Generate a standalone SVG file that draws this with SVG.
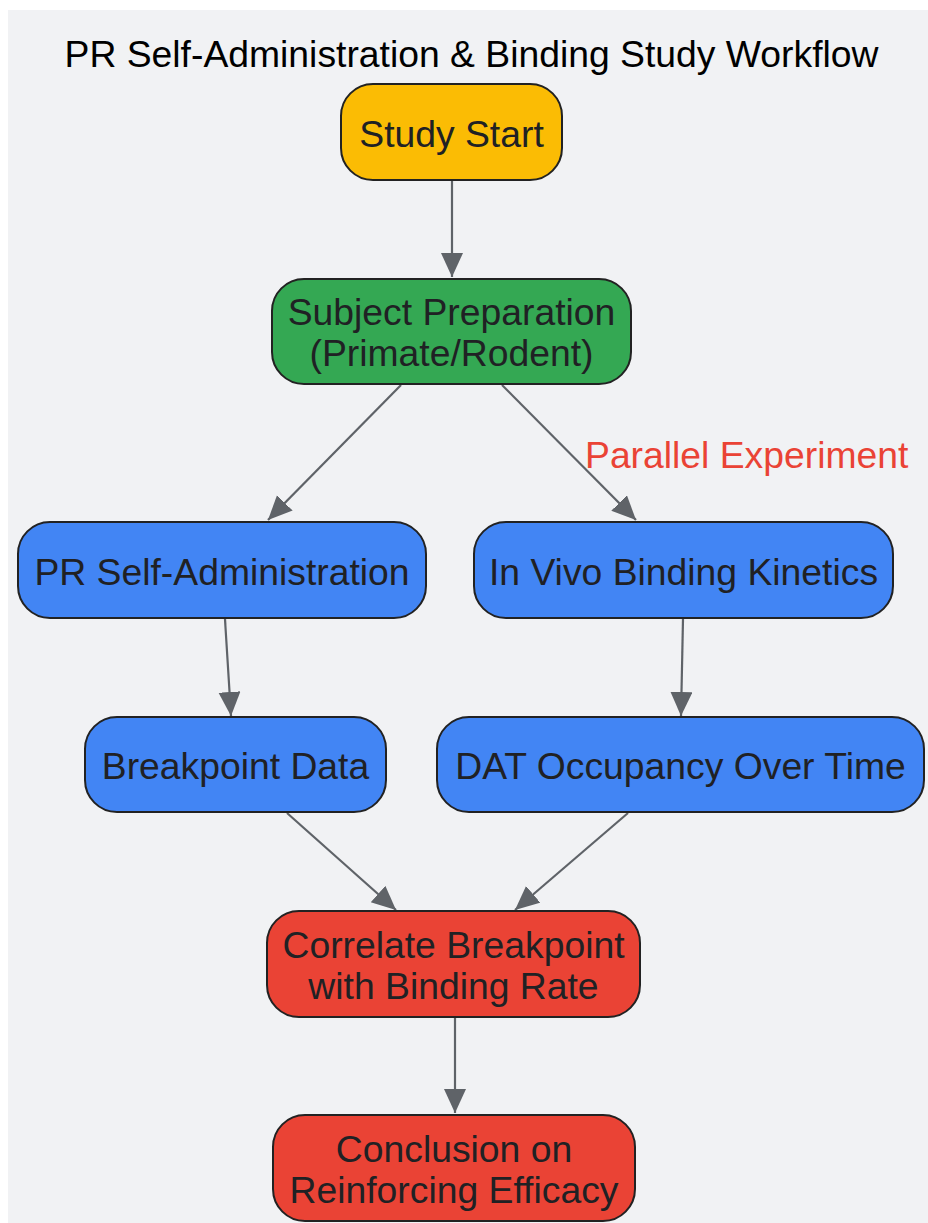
<svg xmlns="http://www.w3.org/2000/svg" width="928" height="1223" viewBox="0 0 928 1223">
<style>
.node rect{stroke:#222;stroke-width:2}
.node text,.title{font-family:"Liberation Sans",Arial,sans-serif;text-anchor:middle}
.node text{font-size:37.3px;fill:#202124}
.title{font-size:37.3px;fill:#000}
.edges path{stroke:#5f6368;stroke-width:2.2;fill:none;marker-end:url(#arr)}
.lbl{font-family:"Liberation Sans",Arial,sans-serif;font-size:37.3px;fill:#ea4335}
</style>
<defs>
<marker id="arr" markerUnits="userSpaceOnUse" markerWidth="26" markerHeight="24" refX="24" refY="11" orient="auto">
<path d="M0,0 L24,11 L0,22 Z" fill="#5f6368"/>
</marker>
</defs>
<rect x="8" y="10" width="920" height="1213" fill="#f1f2f4"/>
<text class="title" x="471.5" y="67">PR Self-Administration &amp; Binding Study Workflow</text>
<g class="edges">
<path d="M452,181 L452,277"/>
<path d="M401,385 L268,520"/>
<path d="M502,385 L636,520"/>
<path d="M225,619 L231,716"/>
<path d="M683,619 L681,716"/>
<path d="M287,813 L396,910"/>
<path d="M628,813 L515,910"/>
<path d="M455,1018 L455,1113"/>
</g>
<text class="lbl" x="585" y="468">Parallel Experiment</text>
<g id="start" class="node"><rect x="341" y="84" width="221" height="96" rx="32" fill="#fbbc04"/><text x="451.5" y="147">Study Start</text></g>
<g id="prep" class="node"><rect x="272" y="279" width="359" height="105" rx="32" fill="#34a853"/><text x="451.5" y="325">Subject Preparation</text><text x="451.5" y="366">(Primate/Rodent)</text></g>
<g id="prsa" class="node"><rect x="18" y="522" width="408" height="96" rx="32" fill="#4285f4"/><text x="222" y="585">PR Self-Administration</text></g>
<g id="invivo" class="node"><rect x="474" y="522" width="419" height="96" rx="32" fill="#4285f4"/><text x="683.5" y="585">In Vivo Binding Kinetics</text></g>
<g id="bp" class="node"><rect x="85" y="717" width="301" height="95" rx="32" fill="#4285f4"/><text x="235.5" y="779">Breakpoint Data</text></g>
<g id="dat" class="node"><rect x="437" y="717" width="487" height="95" rx="32" fill="#4285f4"/><text x="680.5" y="779">DAT Occupancy Over Time</text></g>
<g id="corr" class="node"><rect x="267" y="911" width="373" height="106" rx="32" fill="#ea4335"/><text x="453.5" y="958">Correlate Breakpoint</text><text x="453.5" y="999">with Binding Rate</text></g>
<g id="concl" class="node"><rect x="273" y="1115" width="362" height="106" rx="32" fill="#ea4335"/><text x="454" y="1162">Conclusion on</text><text x="454" y="1203">Reinforcing Efficacy</text></g>
</svg>
